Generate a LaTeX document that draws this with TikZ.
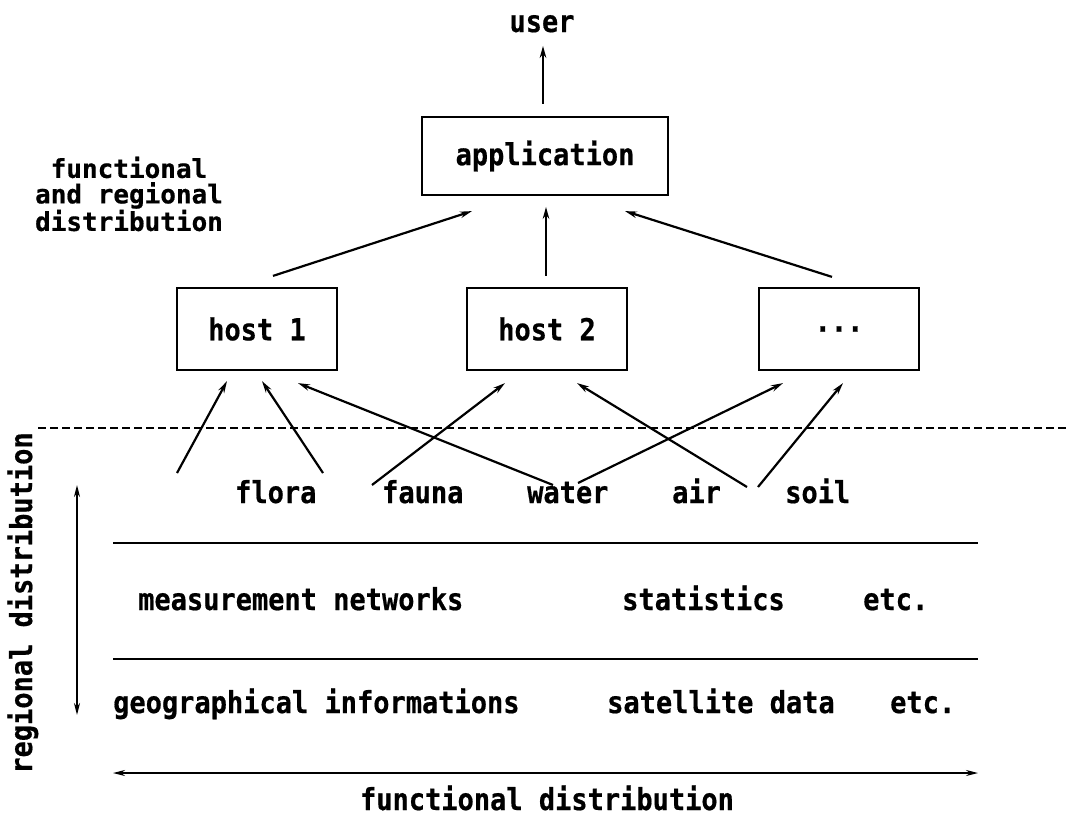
\documentclass[tikz,border=0pt]{standalone}
\usepackage{fontspec}
\usepackage{graphicx}
\setmainfont{DejaVu Sans Mono}[BoldFeatures={FakeBold=0.6}]
\usetikzlibrary{arrows.meta,calc}
\newcommand\tx[1]{\scalebox{1}[1.12]{#1}}
\begin{document}
\begin{tikzpicture}[x=1pt,y=-1pt,
  every node/.style={font=\fontsize{27}{24}\selectfont\bfseries, inner sep=0pt},
  box/.style={draw, line width=2.2pt},
  arr/.style={line width=2.2pt, -{Stealth[length=12pt,width=6.5pt]}},
  darr/.style={line width=1.8pt, {Stealth[length=12pt,width=6pt]}-{Stealth[length=12pt,width=6pt]}},
  rulebar/.style={line width=1.6pt},
  sep/.style={line width=1.8pt, dash pattern=on 8pt off 4pt},
  lbl/.style={anchor=base west},
]
\useasboundingbox (0,0) rectangle (1070,819);

% boxes
\node[box, minimum width=246pt, minimum height=78pt] (app) at (545,156) {\tx{application}};
\node[anchor=base] (user) at (542,32) {\tx{user}};
\node[box, minimum width=160pt, minimum height=82pt] (h1) at (257,329) {\tx{host 1}};
\node[box, minimum width=160pt, minimum height=82pt] (h2) at (547,329) {\tx{host 2}};
\node[box, minimum width=160pt, minimum height=82pt] (h3) at (839,329) {\tx{...}};

\node[align=center, font=\fontsize{26}{25.5}\selectfont\bfseries] (fr) at (129,194) {functional\\and regional\\distribution};

% upper arrows
\draw[arr] ($(app.north)+(-2,-12)$) -- ($(app.north)+(-2,-70)$);
\draw[arr] ($(h1.north)+(16,-11)$) -- ($(app.south)+(-73,15)$);
\draw[arr] ($(h2.north)+(-1,-11)$) -- ($(h2.north)+(-1,-80)$);
\draw[arr] ($(h3.north)+(-7,-10)$) -- ($(app.south)+(80,15)$);

% separator
\coordinate (dl) at (38,428);
\coordinate (dr) at (1070,428);
\draw[sep] (dl) -- (dr);

% labels
\node[lbl] (flora) at (235,503) {\tx{flora}};
\node[lbl] (fauna) at (382,503) {\tx{fauna}};
\node[lbl] (water) at (527,503) {\tx{water}};
\node[lbl] (air)   at (672,503) {\tx{air}};
\node[lbl] (soil)  at (785,503) {\tx{soil}};

% lower arrow free ends
\coordinate (s1) at (177,473);
\coordinate (s2) at (323,473);
\coordinate (s3) at (553,485);
\coordinate (s4) at (372,485);
\coordinate (s5) at (578,483);
\coordinate (s6) at (747,487);
\coordinate (s7) at (758,487);

\draw[arr] (s1) -- ($(h1.south)+(-30,10)$);
\draw[arr] (s2) -- ($(h1.south)+(5,10)$);
\draw[arr] (s3) -- ($(h1.south)+(41,12)$);
\draw[arr] (s4) -- ($(h2.south)+(-42,12)$);
\draw[arr] (s5) -- ($(h3.south)+(-56,12)$);
\draw[arr] (s6) -- ($(h2.south)+(30,12)$);
\draw[arr] (s7) -- ($(h3.south)+(4,12)$);

% table
\coordinate (r1l) at (113,543); \coordinate (r1r) at (978,543);
\coordinate (r2l) at (113,659); \coordinate (r2r) at (978,659);
\draw[rulebar] (r1l) -- (r1r);
\draw[rulebar] (r2l) -- (r2r);

\node[lbl] (mn)  at (138,610) {\tx{measurement networks}};
\node[lbl] (st)  at (622,610) {\tx{statistics}};
\node[lbl] (e1)  at (863,610) {\tx{etc.}};
\node[lbl] (gi)  at (113,713) {\tx{geographical informations}};
\node[lbl] (sd)  at (607,713) {\tx{satellite data}};
\node[lbl] (e2)  at (890,713) {\tx{etc.}};

% axes
\coordinate (bl) at (113,773); \coordinate (br) at (978,773);
\draw[darr] (bl) -- (br);
\node[anchor=base] (fd) at (547,810) {\tx{functional distribution}};

\coordinate (vt) at (77,485); \coordinate (vb) at (77,715);
\draw[darr] (vt) -- (vb);
\node[anchor=base, rotate=90] (rd) at (32,603) {\tx{regional distribution}};
\end{tikzpicture}
\end{document}
